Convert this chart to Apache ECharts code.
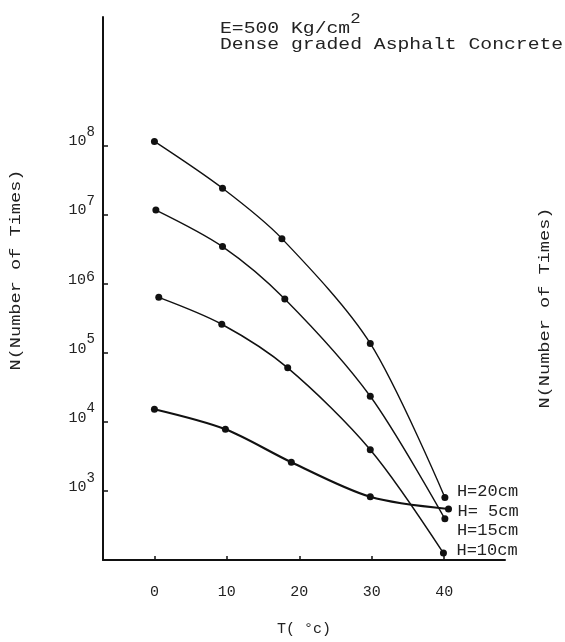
<!DOCTYPE html>
<html>
<head>
<meta charset="utf-8">
<script src="https://cdn.jsdelivr.net/npm/echarts@6/dist/echarts.min.js"></script>
<style>
  html, body { margin: 0; padding: 0; background: #fff; }
  #chart { width: 565px; height: 642px; }
</style>
</head>
<body>
<div id="chart"></div>
<script>
// Fatigue life N versus temperature T for four layer thicknesses
const seriesNames = ['H=20cm', 'H=15cm', 'H=10cm', 'H= 5cm'];

const tempH20 = [0.0, 9.4, 17.6, 29.8, 40.1];
const lifeH20 = [1.14e8, 2.39e7, 4.47e6, 1.36e5, 805];

const tempH15 = [0.2, 9.4, 18.0, 29.8, 40.1];
const lifeH15 = [1.16e7, 3.43e6, 5.98e5, 2.34e4, 394];

const tempH10 = [0.6, 9.3, 18.4, 29.8, 39.9];
const lifeH10 = [6.32e5, 2.58e5, 6.04e4, 3950, 126];

const tempH5 = [0.0, 9.8, 18.9, 29.8, 40.6];
const lifeH5 = [1.52e4, 7.8e3, 2.6e3, 821, 547];

const xTickValues = [0, 10, 20, 30, 40];
const yTickValues = [1e3, 1e4, 1e5, 1e6, 1e7, 1e8];
const yTickExponents = ['3', '4', '5', '6', '7', '8'];

const FONT = '"Liberation Mono", "DejaVu Sans Mono", monospace';

function pairs(xs, ys) {
  return xs.map((x, i) => [x, ys[i]]);
}

// per-series line width and end label placement
const looks = {
  'H=20cm': { width: 1.4, offset: [12, -6] },
  'H=15cm': { width: 1.4, offset: [12, 12] },
  'H=10cm': { width: 1.5, offset: [13, -3] },
  'H= 5cm': { width: 2.2, offset: [9, 3] }
};

const seriesData = {
  'H=20cm': pairs(tempH20, lifeH20),
  'H=15cm': pairs(tempH15, lifeH15),
  'H=10cm': pairs(tempH10, lifeH10),
  'H= 5cm': pairs(tempH5, lifeH5)
};

const chart = echarts.init(document.getElementById('chart'), null, { renderer: 'canvas' });

chart.setOption({
  animation: false,
  backgroundColor: '#fff',
  grid: { left: 103, right: 60, top: 17, bottom: 74, containLabel: false },
  xAxis: {
    type: 'value',
    min: -7.1,
    max: 48.4,
    axisLine: { show: true, onZero: false, lineStyle: { color: '#111', width: 2 } },
    axisTick: { show: true, inside: true, length: 4, customValues: xTickValues, lineStyle: { color: '#111', width: 1.5 } },
    axisLabel: {
      customValues: xTickValues,
      margin: 25,
      color: '#222',
      fontFamily: FONT,
      fontSize: 15
    },
    splitLine: { show: false },
    name: 'T( \u00b0c)',
    nameLocation: 'middle',
    nameGap: 62,
    nameTextStyle: { color: '#222', fontFamily: FONT, fontSize: 15 }
  },
  yAxis: {
    type: 'log',
    logBase: 10,
    min: 100,
    max: 7.2e9,
    axisLine: { show: true, onZero: false, lineStyle: { color: '#111', width: 2 } },
    axisTick: { show: true, inside: true, length: 5, customValues: yTickValues, lineStyle: { color: '#111', width: 1.5 } },
    axisLabel: {
      customValues: yTickValues,
      margin: 8,
      color: '#222',
      fontFamily: FONT,
      fontSize: 15,
      formatter: function (v) {
        const e = Math.round(Math.log10(v));
        const exp = yTickExponents[yTickValues.indexOf(Math.pow(10, e))] || String(e);
        if (exp === '6') return '{b|10}{f|6}';
        return '{b|10}{s|' + exp + '}';
      },
      rich: {
        b: { fontFamily: FONT, fontSize: 15, color: '#222', padding: [0, 0, 8, 0] },
        s: { fontFamily: FONT, fontSize: 14, color: '#222', padding: [0, 0, 26, 0] },
        f: { fontFamily: FONT, fontSize: 15, color: '#222', padding: [0, 0, 14, 0] }
      }
    },
    splitLine: { show: false }
  },
  series: seriesNames.map(name => ({
    name: name,
    type: 'line',
    data: seriesData[name],
    smooth: 0.3,
    symbol: 'circle',
    symbolSize: 7,
    itemStyle: { color: '#111' },
    lineStyle: { color: '#111', width: looks[name].width },
    endLabel: {
      show: true,
      formatter: name,
      distance: 0,
      offset: looks[name].offset,
      color: '#222',
      fontFamily: FONT,
      fontSize: 17
    },
    z: 3
  })),
  graphic: [
    {
      type: 'text',
      x: 220,
      y: 8,
      scaleX: 1.16,
      style: {
        text: '{m|E=500 Kg/cm}{p|2}',
        rich: {
          m: { fontFamily: FONT, fontSize: 17, fill: '#222', padding: [12, 0, 0, 0] },
          p: { fontFamily: FONT, fontSize: 15, fill: '#222', padding: [0, 0, 6, 0] }
        }
      }
    },
    {
      type: 'text',
      x: 220,
      y: 36,
      scaleX: 1.16,
      style: { text: 'Dense graded Asphalt Concrete', fontFamily: FONT, fontSize: 17, fill: '#222' }
    },
    {
      type: 'text',
      rotation: Math.PI / 2,
      x: 16, y: 270,
      scaleX: 1.2,
      style: { text: 'N(Number of Times)', fontFamily: FONT, fontSize: 15.5, fill: '#222', align: 'center', verticalAlign: 'middle' }
    },
    {
      type: 'text',
      rotation: Math.PI / 2,
      x: 545, y: 308,
      scaleX: 1.2,
      style: { text: 'N(Number of Times)', fontFamily: FONT, fontSize: 15.5, fill: '#222', align: 'center', verticalAlign: 'middle' }
    }
  ]
});
</script>
</body>
</html>
